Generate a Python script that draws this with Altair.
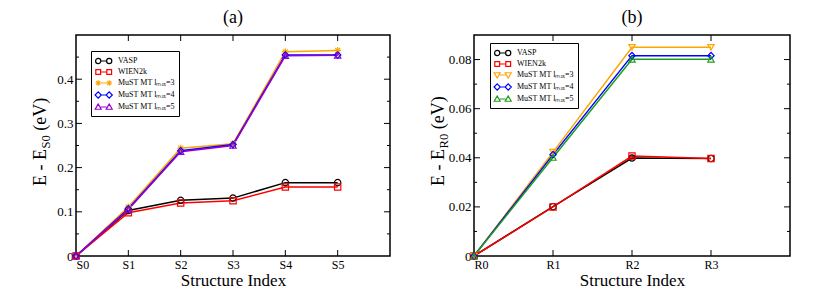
import altair as alt
import pandas as pd

FONT = "Liberation Serif"

# ---------------- data ----------------
series_a = ["VASP", "WIEN2k", "MuST MT lₘₐₓ=3", "MuST MT lₘₐₓ=4", "MuST MT lₘₐₓ=5"]
series_b = ["VASP", "WIEN2k", "MuST MT lₘₐₓ=3", "MuST MT lₘₐₓ=4", "MuST MT lₘₐₓ=5"]

idx_a = [0, 1, 2, 3, 4, 5]
vasp_a = [0.0, 0.103, 0.126, 0.131, 0.166, 0.166]
wien_a = [0.0, 0.098, 0.120, 0.125, 0.156, 0.156]
l3_a = [0.0, 0.111, 0.244, 0.254, 0.462, 0.465]
l4_a = [0.0, 0.107, 0.238, 0.252, 0.455, 0.455]
l5_a = [0.0, 0.105, 0.236, 0.250, 0.453, 0.454]

idx_b = [0, 1, 2, 3]
vasp_b = [0.0, 0.0201, 0.0399, 0.0397]
wien_b = [0.0, 0.0200, 0.0407, 0.0397]
l3_b = [0.0, 0.0423, 0.0850, 0.0850]
l4_b = [0.0, 0.0413, 0.0816, 0.0816]
l5_b = [0.0, 0.0401, 0.0801, 0.0801]

# axis tick positions
ylab_a = [0, 0.1, 0.2, 0.3, 0.4]
ymajor_a = [0.1, 0.2, 0.3, 0.4]
yminor_a = [0.05, 0.15, 0.25, 0.35, 0.45]
xtick_a = [1, 2, 3, 4, 5]
ylab_b = [0, 0.02, 0.04, 0.06, 0.08]
ymajor_b = [0.02, 0.04, 0.06, 0.08]
yminor_b = [0.01, 0.03, 0.05, 0.07]
xtick_b = [1, 2, 3]

colors_a = ["#000000", "#ff0000", "#ffa500", "#0000ff", "#9400d3"]
colors_b = ["#000000", "#ff0000", "#ffa500", "#0000ff", "#1e9e1e"]

ASTERISK = "M-1.1,0L1.1,0M0,-1.1L0,1.1M-0.78,-0.78L0.78,0.78M-0.78,0.78L0.78,-0.78"
shapes_a = ["circle", "square", ASTERISK, "diamond", "triangle-up"]
shapes_b = ["circle", "square", "triangle-down", "diamond", "triangle-up"]
kinds_a = ["circle", "square", "asterisk", "diamond", "triangle-up"]
kinds_b = ["circle", "square", "triangle-down", "diamond", "triangle-up"]


# ---------------- legend symbol paths (line with two markers) ----------------
L, R, RAD = -0.56, 1.64, 0.52


def f(v):
    return f"{v:.3f}"


def mk(kind, cx):
    r = RAD
    if kind == "circle":
        return (f"M{f(cx-r)},0A{f(r)},{f(r)} 0 1,0 {f(cx+r)},0"
                f"A{f(r)},{f(r)} 0 1,0 {f(cx-r)},0Z")
    if kind == "square":
        r = 0.48
        return f"M{f(cx-r)},{f(-r)}L{f(cx+r)},{f(-r)}L{f(cx+r)},{f(r)}L{f(cx-r)},{f(r)}Z"
    if kind == "diamond":
        r = 0.62
        return f"M{f(cx)},{f(-r)}L{f(cx+r)},0L{f(cx)},{f(r)}L{f(cx-r)},0Z"
    if kind == "triangle-up":
        r = 0.6
        return f"M{f(cx)},{f(-r)}L{f(cx+r)},{f(r*0.75)}L{f(cx-r)},{f(r*0.75)}Z"
    if kind == "triangle-down":
        r = 0.6
        return f"M{f(cx)},{f(r)}L{f(cx+r)},{f(-r*0.75)}L{f(cx-r)},{f(-r*0.75)}Z"
    r = 0.55
    d = r * 0.7
    return (f"M{f(cx-r)},0L{f(cx+r)},0M{f(cx)},{f(-r)}L{f(cx)},{f(r)}"
            f"M{f(cx-d)},{f(-d)}L{f(cx+d)},{f(d)}M{f(cx-d)},{f(d)}L{f(cx+d)},{f(-d)}")


def legend_path(kind):
    return mk(kind, L) + f"M{f(L+RAD)},0L{f(R-RAD)},0" + mk(kind, R)


def make_panel(title, prefix, idx, vals, series, colors, shapes, kinds,
               ymax, ylabels, ymajor, yminor, xticks, xmax, W, H, legx, legy,
               sub, sub_len):
    rows = []
    for s, v in zip(series, vals):
        for i, y in zip(idx, v):
            rows.append({"x": i, "y": y, "series": s})
    df = pd.DataFrame(rows)

    xscale = alt.Scale(domain=[0, xmax], nice=False, zero=False)
    yscale = alt.Scale(domain=[0, ymax], nice=False, zero=False)
    cscale = alt.Scale(domain=series, range=colors)
    lscale = alt.Scale(domain=series, range=[legend_path(k) for k in kinds])

    xaxis = alt.Axis(
        orient="bottom", values=idx, labelExpr=f"'{prefix}' + datum.value",
        ticks=False, domain=False, grid=False,
        labelFont=FONT, labelFontSize=12, labelColor="black", labelPadding=3,
        title="Structure Index", titleFont=FONT, titleFontSize=17,
        titleFontWeight="normal", titleColor="black", titlePadding=2)
    yaxis = alt.Axis(
        orient="left", values=ylabels, format="~g",
        ticks=False, domain=False, grid=False,
        labelFont=FONT, labelFontSize=13, labelColor="black", labelPadding=3,
        title=None)
    leg = alt.Legend(
        orient="none", legendX=legx, legendY=legy, title=None,
        labelFont=FONT, labelFontSize=8, labelColor="black",
        symbolSize=100, symbolStrokeWidth=1.2, symbolOpacity=1,
        symbolFillColor="transparent",
        strokeColor="black", fillColor="white", padding=4,
        rowPadding=0, labelOffset=11,
    )

    def X():
        return alt.X("x:Q", scale=xscale, axis=xaxis)

    def Y():
        return alt.Y("y:Q", scale=yscale, axis=yaxis)

    def C():
        return alt.Color("series:N", scale=cscale, legend=leg)

    base = alt.Chart(df)

    data_layers = [base.mark_line(strokeWidth=1.5).encode(x=X(), y=Y(), color=C())]
    for s, shp in zip(series, shapes):
        data_layers.append(
            base.transform_filter(alt.datum.series == s).mark_point(
                shape=shp, filled=False, size=40, strokeWidth=1.2, opacity=1
            ).encode(x=X(), y=Y(), color=C())
        )
    # legend carrier (no visible marks)
    data_layers.append(
        base.transform_filter("datum.x < 0").mark_point(filled=False, strokeWidth=1.2).encode(
            x=X(), y=Y(), color=C(),
            shape=alt.Shape("series:N", scale=lscale, legend=leg),
        )
    )
    data_part = alt.layer(*data_layers)

    # inward ticks on all four sides, drawn as tick marks
    xt = alt.Chart(pd.DataFrame({"v": xticks}))
    ytM = alt.Chart(pd.DataFrame({"v": ymajor}))
    ytm = alt.Chart(pd.DataFrame({"v": yminor}))
    XT = alt.X("v:Q", scale=xscale, axis=None)
    YT = alt.Y("v:Q", scale=yscale, axis=None)

    def vt(size):
        return dict(orient="vertical", thickness=1, size=size, color="black", opacity=1)

    def ht(size):
        return dict(orient="horizontal", thickness=1, size=size, color="black", opacity=1)

    tick_part = alt.layer(
        xt.mark_tick(**vt(6)).encode(x=XT, y=alt.value(H - 3)),
        xt.mark_tick(**vt(6)).encode(x=XT, y=alt.value(3)),
        ytM.mark_tick(**ht(6)).encode(y=YT, x=alt.value(3)),
        ytM.mark_tick(**ht(6)).encode(y=YT, x=alt.value(W - 3)),
        ytm.mark_tick(**ht(3)).encode(y=YT, x=alt.value(1.5)),
        ytm.mark_tick(**ht(3)).encode(y=YT, x=alt.value(W - 1.5)),
    )

    # y-axis title "E - E_sub (eV)" built from pieces (rotated)
    y0 = 151
    main_fs, sub_fs = 18, 12.6
    bx = -30
    texts = []
    texts.append(alt.Chart(pd.DataFrame({"t": ["E - E"]})).mark_text(
        angle=270, align="left", baseline="alphabetic", font=FONT,
        fontSize=main_fs, color="black").encode(
        text="t:N", x=alt.value(bx), y=alt.value(y0)))
    y1 = y0 - 2.055 * main_fs - 0.5
    texts.append(alt.Chart(pd.DataFrame({"t": [sub]})).mark_text(
        angle=270, align="left", baseline="alphabetic", font=FONT,
        fontSize=sub_fs, color="black").encode(
        text="t:N", x=alt.value(bx + 3.5), y=alt.value(y1)))
    y2 = y1 - sub_len * sub_fs - 0.25 * main_fs
    texts.append(alt.Chart(pd.DataFrame({"t": ["(eV)"]})).mark_text(
        angle=270, align="left", baseline="alphabetic", font=FONT,
        fontSize=main_fs, color="black").encode(
        text="t:N", x=alt.value(bx), y=alt.value(y2)))

    return alt.layer(tick_part, data_part, *texts).resolve_scale(
        x="independent", y="independent"
    ).properties(
        width=W, height=H,
        title=alt.TitleParams(title, font=FONT, fontSize=18, fontWeight="normal",
                              color="black", offset=8, anchor="middle"),
    )


panel_a = make_panel(
    "(a)", "S", idx_a, [vasp_a, wien_a, l3_a, l4_a, l5_a], series_a, colors_a,
    shapes_a, kinds_a, 0.5, ylab_a, ymajor_a, yminor_a, xtick_a, 6,
    314, 221, 15, 16, "S0", 1.056)

panel_b = make_panel(
    "(b)", "R", idx_b, [vasp_b, wien_b, l3_b, l4_b, l5_b], series_b, colors_b,
    shapes_b, kinds_b, 0.09, ylab_b, ymajor_b, yminor_b, xtick_b, 4,
    316, 221, 16, 8, "R0", 1.167)

chart = alt.hconcat(panel_a, panel_b, spacing=38).resolve_scale(
    x="independent", y="independent", color="independent", shape="independent"
).properties(
    padding={"left": 23, "top": 0, "right": 5, "bottom": 5},
    background="white",
).configure_view(
    stroke="black", strokeWidth=1.5
)

chart.save("out.html", embed_options={"renderer": "svg", "actions": False})
